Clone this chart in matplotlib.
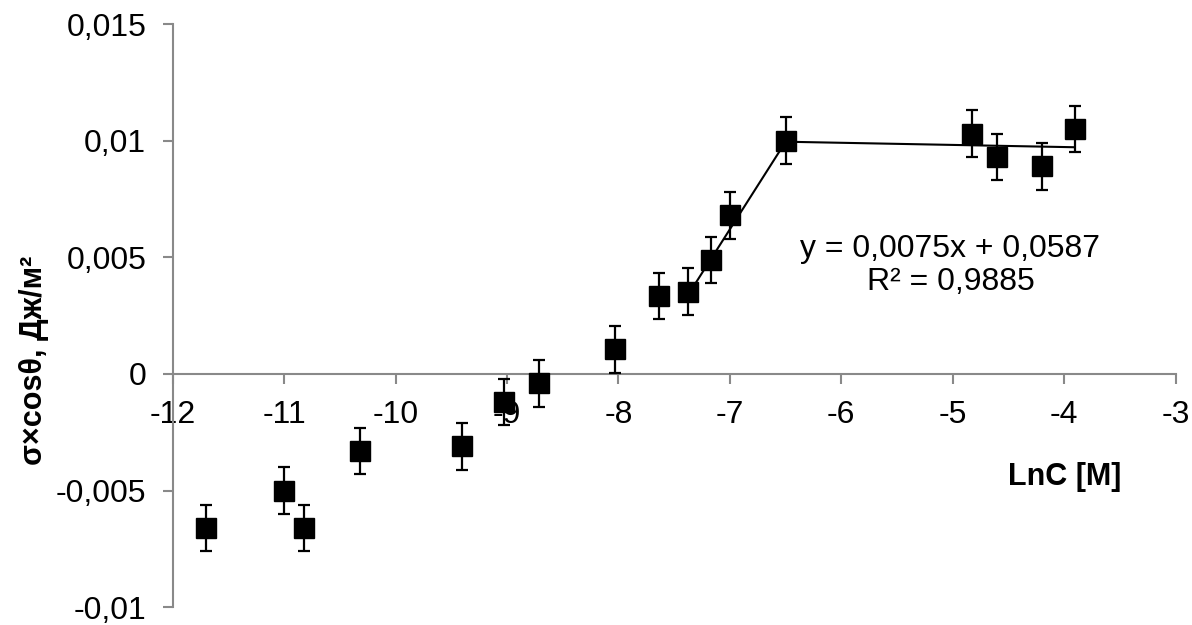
import numpy as np
import matplotlib
matplotlib.use("Agg")
import matplotlib.pyplot as plt
from matplotlib.ticker import FuncFormatter

# Measured points: ln of concentration vs. sigma*cos(theta)
lnc = [-11.70, -11.00, -10.82, -10.32, -9.40, -9.03, -8.71, -8.03,
       -7.64, -7.375, -7.17, -7.00, -6.495, -4.83, -4.60, -4.195, -3.905]
sigma_cos = [-0.0066, -0.0050, -0.0066, -0.0033, -0.0031, -0.0012, -0.0004,
             0.00106, 0.00334, 0.00353, 0.00489, 0.0068, 0.0100,
             0.0103, 0.0093, 0.0089, 0.0105]
err = [0.001] * len(lnc)

# Linear trend on the rising part (points 10-13), coefficients as reported
slope_rise, icept_rise = 0.0075, 0.0587
r2_rise = 0.9885
rise_idx = slice(9, 13)
# Plateau trend (points 13-17)
plateau_idx = slice(12, 17)

x_ticks = [-12, -11, -10, -9, -8, -7, -6, -5, -4, -3]
y_ticks = [-0.01, -0.005, 0, 0.005, 0.01, 0.015]

plt.rcParams["font.family"] = ["Liberation Sans", "DejaVu Sans"]

fig = plt.figure(figsize=(11.92, 6.25), dpi=100)
ax = fig.add_axes([0.1449, 0.0283, 0.9862 - 0.1449, 0.9616 - 0.0283])

x = np.array(lnc)
y = np.array(sigma_cos)

# Trend lines
xr = x[rise_idx]
xr_line = np.array([xr.min(), xr.max()])
ax.plot(xr_line, slope_rise * xr_line + icept_rise, color="black", lw=1.5, zorder=2)

xp = x[plateau_idx]
yp = y[plateau_idx]
k, b = np.polyfit(xp, yp, 1)
xp_line = np.array([xp.min(), xp.max()])
ax.plot(xp_line, k * xp_line + b, color="black", lw=1.5, zorder=2)

# Data with error bars
ax.errorbar(x, y, yerr=err, fmt="s", color="black", markersize=14.5,
            ecolor="black", elinewidth=1.6, capsize=4.5, capthick=1.6, zorder=3)

ax.text(-5.02, 0.00465,
        "y = {:.4f}x + {:.4f}\nR² = {:.4f}".format(slope_rise, icept_rise, r2_rise).replace(".", ","),
        ha="center", va="center", fontsize=23, linespacing=1.1)

ax.set_xlim(-12, -3)
ax.set_ylim(-0.01, 0.015)
ax.set_xticks(x_ticks)
ax.set_yticks(y_ticks)
ax.xaxis.set_major_formatter(FuncFormatter(lambda v, p: "{:g}".format(v)))
ax.yaxis.set_major_formatter(FuncFormatter(lambda v, p: "{:g}".format(round(v, 4)).replace(".", ",")))

axis_grey = "#898989"
for s in ("top", "right"):
    ax.spines[s].set_visible(False)
ax.spines["bottom"].set_position(("data", 0))
for s in ("left", "bottom"):
    ax.spines[s].set_color(axis_grey)
    ax.spines[s].set_linewidth(1.5)

ax.tick_params(axis="both", which="major", direction="out", length=7,
               width=1.5, color=axis_grey, labelsize=23, labelcolor="black")
ax.tick_params(axis="y", pad=12)
ax.tick_params(axis="x", pad=12)

fig.text(0.0285, 1 - 360 / 625, "σ×cosθ, Дж/м²", rotation=90, ha="center",
         va="center", fontsize=22, fontweight="bold")
fig.text(1065 / 1192, 1 - 477 / 625, "LnC [M]", ha="center", va="center",
         fontsize=22, fontweight="bold")

fig.savefig("out.png", dpi=100, facecolor="white")
